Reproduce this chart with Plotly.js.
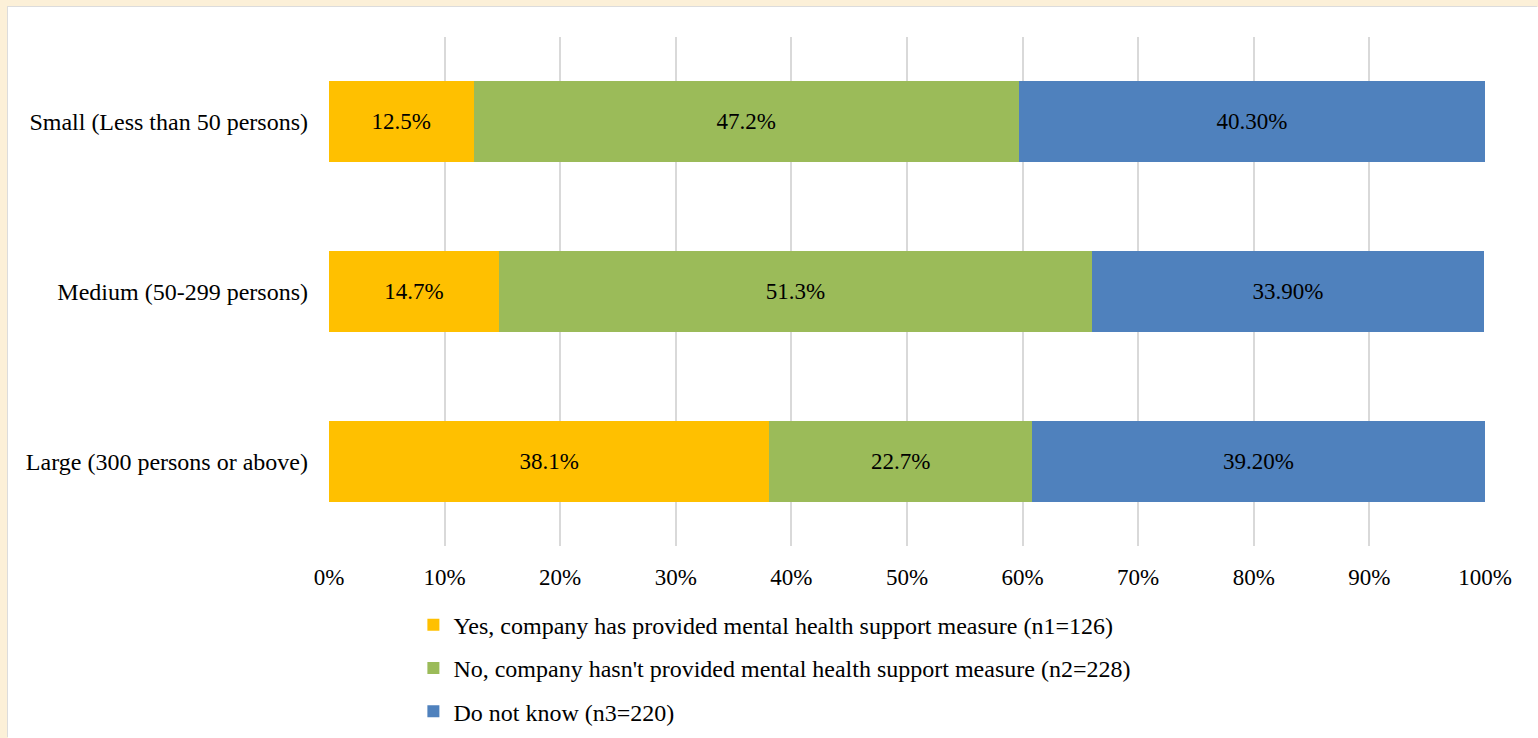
<!DOCTYPE html>
<html>
<head>
<meta charset="utf-8">
<script src="https://cdn.plot.ly/plotly-3.0.1.min.js"></script>
<style>
  html, body { margin: 0; padding: 0; background: #fcf0d8; width: 1538px; height: 738px; overflow: hidden; }
  #chart { position: absolute; left: 8px; top: 7px; width: 1530px; height: 731px; background: #ffffff;
           box-shadow: -1px -1px 0 #dcdcdc; }
</style>
</head>
<body>
<div id="chart"></div>
<script>
const categories = ['Small (Less than 50 persons)', 'Medium (50-299 persons)', 'Large (300 persons or above)'];
const seriesNames = [
  'Yes, company has provided mental health support measure (n1=126)',
  "No, company hasn't provided mental health support measure (n2=228)",
  'Do not know (n3=220)'
];
const yesValues = [12.5, 14.7, 38.1];
const noValues = [47.2, 51.3, 22.7];
const dkValues = [40.3, 33.9, 39.2];
const xTickValues = [0, 10, 20, 30, 40, 50, 60, 70, 80, 90, 100];
const xTickLabels = ['0%', '10%', '20%', '30%', '40%', '50%', '60%', '70%', '80%', '90%', '100%'];

const FONT = '"Liberation Serif", "Times New Roman", serif';
const colors = ['#FFC000', '#9BBB59', '#4F81BD'];
const allValues = [yesValues, noValues, dkValues];
const templates = ['%{x:.1f}%', '%{x:.1f}%', '%{x:.2f}%'];

const traces = allValues.map((vals, i) => ({
  type: 'bar',
  orientation: 'h',
  name: seriesNames[i],
  legendgroup: 'g' + i,
  x: vals,
  y: categories,
  marker: { color: colors[i], line: { width: 0 } },
  texttemplate: templates[i],
  textposition: 'inside',
  insidetextanchor: 'middle',
  textfont: { family: FONT, size: 23, color: '#000000' },
  hoverinfo: 'x+name'
}));

const layout = {
  width: 1530,
  height: 731,
  paper_bgcolor: '#ffffff',
  plot_bgcolor: '#ffffff',
  barmode: 'stack',
  bargap: 0.524,
  margin: { l: 321, r: 53, t: 29.5, b: 191.5, autoexpand: false },
  font: { family: FONT, size: 23, color: '#000000' },
  xaxis: {
    range: [0, 100],
    tickmode: 'array',
    tickvals: xTickValues,
    ticktext: xTickLabels,
    showgrid: true,
    gridcolor: '#d9d9d9',
    gridwidth: 2,
    zeroline: false,
    showline: false,
    ticks: '',
    ticklabelstandoff: 15,
    tickfont: { family: FONT, size: 23, color: '#000000' },
    automargin: false,
    fixedrange: true
  },
  yaxis: {
    autorange: 'reversed',
    showgrid: false,
    zeroline: false,
    showline: false,
    ticks: '',
    ticklabelstandoff: 20,
    tickfont: { family: FONT, size: 24, color: '#000000' },
    automargin: false,
    fixedrange: true
  },
  showlegend: true,
  legend: {
    orientation: 'v',
    xref: 'paper',
    x: 0.073,
    xanchor: 'left',
    yref: 'container',
    y: 0.185,
    yanchor: 'top',
    traceorder: 'grouped',
    tracegroupgap: 9,
    itemwidth: 30,
    font: { family: FONT, size: 24, color: '#000000' },
    bgcolor: 'rgba(0,0,0,0)'
  }
};

Plotly.newPlot('chart', traces, layout, { displayModeBar: false, staticPlot: true });
</script>
</body>
</html>
